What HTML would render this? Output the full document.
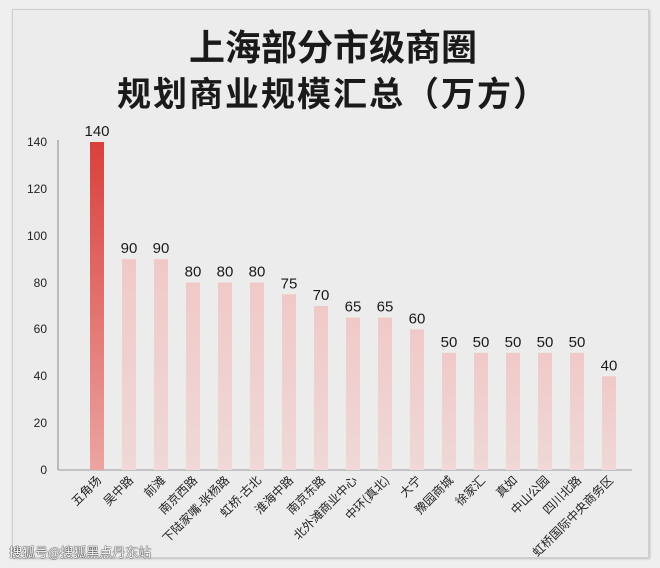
<!DOCTYPE html>
<html><head><meta charset="utf-8"><style>
html,body{margin:0;padding:0;background:#efefef;}
body{width:660px;height:568px;position:relative;overflow:hidden;font-family:"Liberation Sans","Noto Sans CJK SC",sans-serif;}
.panel{position:absolute;left:12px;top:9px;width:635px;height:547px;background:#ececec;border:1px solid #cfcfcf;box-shadow:1px 1px 2px #bbb;}
.t{position:absolute;font-family:"Noto Sans CJK SC",sans-serif;font-weight:bold;color:#1a1a1a;white-space:nowrap;line-height:1;}
</style></head><body>
<div class="panel"></div>
<div class="t" style="left:189px;top:27px;font-size:36px;">上海部分市级商圈</div>
<div class="t" style="left:117px;top:75px;font-size:34px;letter-spacing:2px;">规划商业规模汇总（万方）</div>
<svg width="660" height="568" style="position:absolute;left:0;top:0" xmlns="http://www.w3.org/2000/svg">
<defs><linearGradient id="r" x1="0" y1="0" x2="0" y2="1"><stop offset="0" stop-color="#d9403b"/><stop offset="1" stop-color="#eba5a2"/></linearGradient>
<linearGradient id="p" x1="0" y1="0" x2="0" y2="1"><stop offset="0" stop-color="#f0c9c7"/><stop offset="1" stop-color="#efd8d7"/></linearGradient></defs>
<line x1="58" y1="140" x2="58" y2="470" stroke="#888" stroke-width="1"/>
<line x1="58" y1="470" x2="632" y2="470" stroke="#999" stroke-width="1"/>
<g font-size="12" fill="#222" text-anchor="end" font-family="Liberation Sans,sans-serif">
<text x="47" y="474">0</text><text x="47" y="427">20</text><text x="47" y="380">40</text><text x="47" y="333">60</text><text x="47" y="287">80</text><text x="47" y="240">100</text><text x="47" y="193">120</text><text x="47" y="146">140</text>
</g>
<g id="bars"></g>
</svg>
<div class="t" style="left:9px;top:545px;font-size:13px;font-weight:normal;color:#fff;text-shadow:0 0 1px #000,0 0 1px #000;">搜狐号@搜狐黑点丹东站</div>
<script>
var d=[["五角场",140],["吴中路",90],["前滩",90],["南京西路",80],["下陆家嘴-张杨路",80],["虹桥-古北",80],["淮海中路",75],["南京东路",70],["北外滩商业中心",65],["中环(真北)",65],["大宁",60],["豫园商城",50],["徐家汇",50],["真如",50],["中山公园",50],["四川北路",50],["虹桥国际中央商务区",40]];
var g=document.getElementById("bars"),s="",k=328/140;
d.forEach(function(e,i){var cx=97+i*32.0,h=e[1]*k,y=470-h;
s+='<rect x="'+(cx-7)+'" y="'+y+'" width="14" height="'+h+'" fill="url(#'+(i==0?'r':'p')+')"/>';
s+='<text x="'+cx+'" y="'+(y-6)+'" text-anchor="middle" font-size="15" fill="#1a1a1a" font-family="Liberation Sans,sans-serif">'+e[1]+'</text>';
s+='<text transform="translate('+(cx+5)+',481) rotate(-45)" text-anchor="end" font-size="12" fill="#222" font-family="Noto Sans CJK SC,sans-serif">'+e[0]+'</text>';});
g.innerHTML=s;
</script>
</body></html>
